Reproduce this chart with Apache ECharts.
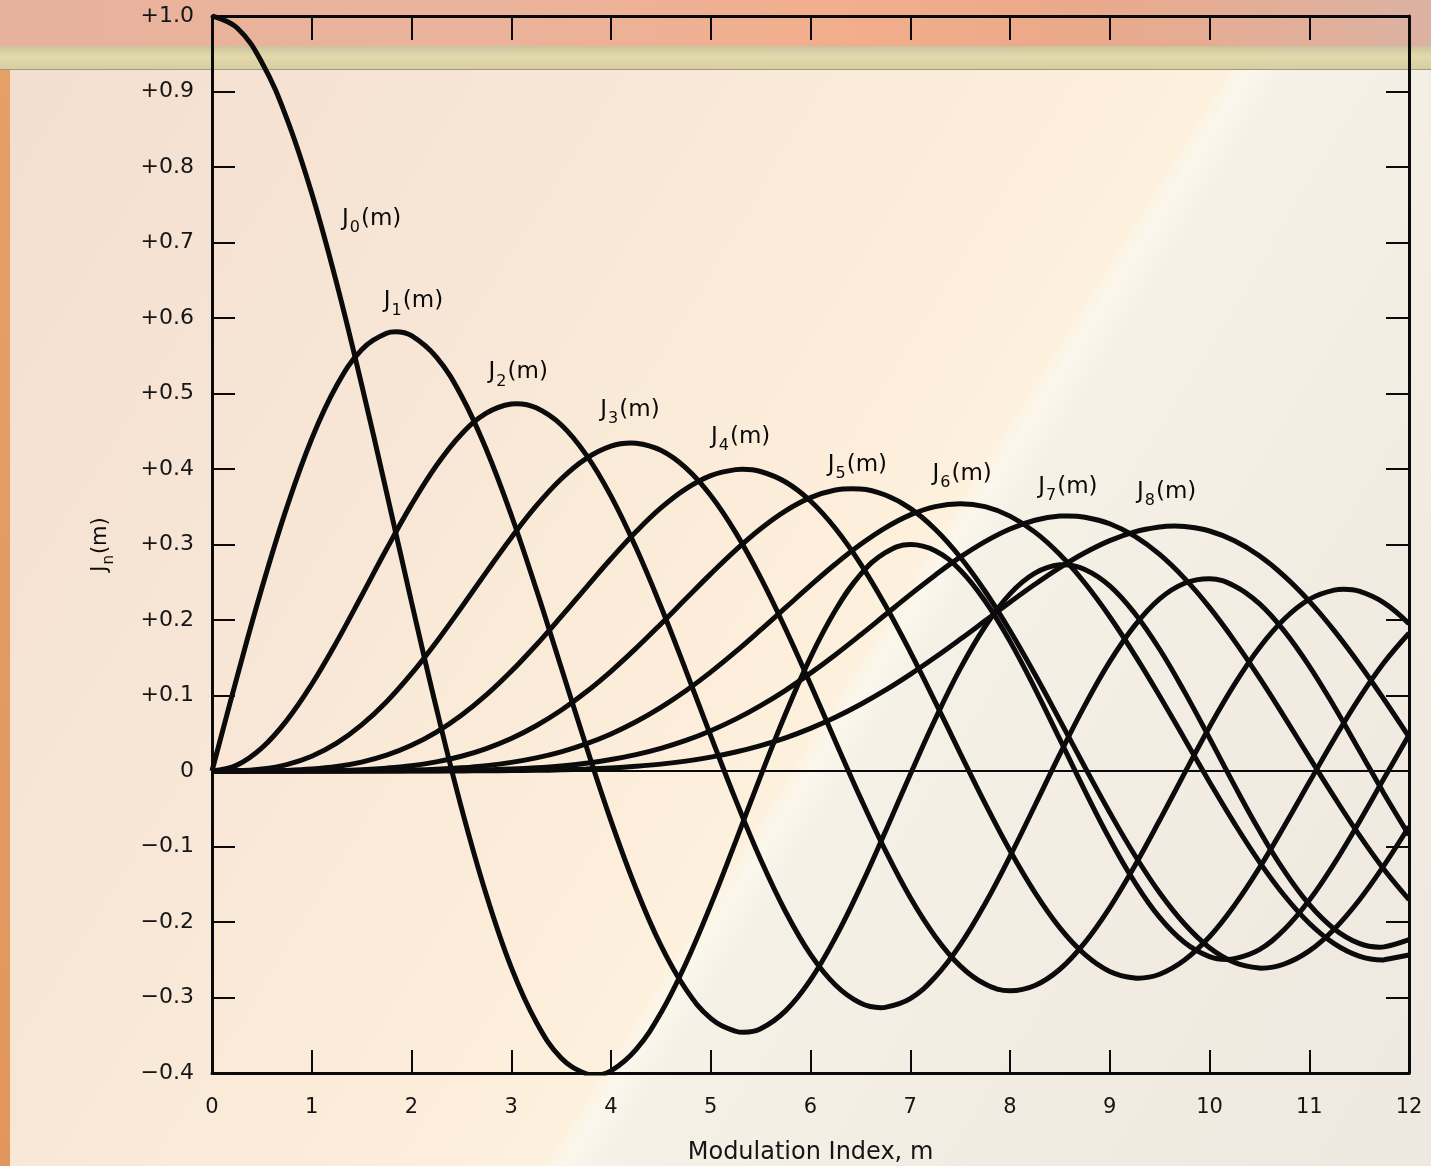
<!DOCTYPE html>
<html>
<head>
<meta charset="utf-8">
<title>Bessel functions Jn(m)</title>
<script src="https://cdn.jsdelivr.net/npm/echarts@6/dist/echarts.min.js"></script>
<style>
html, body { margin: 0; padding: 0; width: 1431px; height: 1166px; overflow: hidden; }
#bg-top { position: absolute; left: 0; top: 0; width: 1431px; height: 46px;
  background: linear-gradient(90deg, #e7b29c 0%, #ebb39b 35%, #f2ae8c 60%, #eaa98a 75%, #dcb2a3 100%); }
#bg-band { position: absolute; left: 0; top: 46px; width: 1431px; height: 23px;
  background: linear-gradient(180deg, #cbc39e 0%, #e3d9ab 45%, #d7cea3 100%); border-bottom: 1px solid #a29b80; }
#bg-left { position: absolute; left: 0; top: 70px; width: 10px; height: 1096px;
  background: linear-gradient(180deg, #e5a066, #e2965c); }
#bg-panel { position: absolute; left: 10px; top: 70px; width: 1421px; height: 1096px;
  background: linear-gradient(122deg, #f3dfcf 0%, #f7e5d5 25%, #fbecd9 45%, #fdf0dc 57.6%, #fbf7ec 58.8%, #f6f1e6 60.6%, #f1ebe2 80%, #efe8e0 100%); }
#main { position: absolute; left: 0; top: 0; width: 1431px; height: 1166px; }
</style>
</head>
<body>
<div id="bg-top"></div>
<div id="bg-band"></div>
<div id="bg-left"></div>
<div id="bg-panel"></div>
<div id="main"></div>
<script>
// modulation index samples
var mValues = [0, 0.25, 0.5, 0.75, 1, 1.25, 1.5, 1.75, 2, 2.25, 2.5, 2.75, 3, 3.25, 3.5, 3.75, 4, 4.25, 4.5, 4.75,
    5, 5.25, 5.5, 5.75, 6, 6.25, 6.5, 6.75, 7, 7.25, 7.5, 7.75, 8, 8.25, 8.5, 8.75, 9, 9.25, 9.5, 9.75,
    10, 10.25, 10.5, 10.75, 11, 11.25, 11.5, 11.75, 12];

// Jn(m)
var J0 = [1.0, 0.9844, 0.9385, 0.8642, 0.7652, 0.6458, 0.5118, 0.3691, 0.2239, 0.0829, -0.0484, -0.1639, -0.2601, -0.3324, -0.3801, -0.4011, -0.3971, -0.3689, -0.3205, -0.2550,
    -0.1776, -0.0931, -0.0068, 0.0759, 0.1506, 0.2129, 0.2601, 0.2892, 0.3001, 0.2918, 0.2663, 0.2251, 0.1717, 0.1092, 0.0419, -0.0259, -0.0903, -0.1472, -0.1939, -0.2271,
    -0.2459, -0.2487, -0.2366, -0.2099, -0.1712, -0.1226, -0.0677, -0.0097, 0.0477];
var J1 = [0, 0.1240, 0.2423, 0.3492, 0.4401, 0.5105, 0.5579, 0.5799, 0.5767, 0.5482, 0.4971, 0.4259, 0.3391, 0.2411, 0.1374, 0.0334, -0.0660, -0.1554, -0.2311, -0.2890,
    -0.3276, -0.3447, -0.3414, -0.3177, -0.2767, -0.2206, -0.1538, -0.0803, -0.0047, 0.0685, 0.1352, 0.1914, 0.2346, 0.2620, 0.2731, 0.2670, 0.2453, 0.2090, 0.1613, 0.1048,
    0.0435, -0.0190, -0.0789, -0.1324, -0.1768, -0.2092, -0.2284, -0.2329, -0.2234];
var J2 = [0, 0.0078, 0.0306, 0.0671, 0.1149, 0.1710, 0.2321, 0.2940, 0.3528, 0.4047, 0.4461, 0.4739, 0.4861, 0.4810, 0.4586, 0.4190, 0.3641, 0.2959, 0.2178, 0.1334,
    0.0466, -0.0383, -0.1173, -0.1864, -0.2429, -0.2835, -0.3074, -0.3130, -0.3014, -0.2729, -0.2303, -0.1757, -0.1130, -0.0457, 0.0223, 0.0869, 0.1448, 0.1925, 0.2279, 0.2486,
    0.2546, 0.2451, 0.2216, 0.1853, 0.1390, 0.0854, 0.0279, -0.0300, -0.0849];
var J3 = [0, 0.0003, 0.0026, 0.0085, 0.0196, 0.0369, 0.0610, 0.0918, 0.1289, 0.1710, 0.2166, 0.2634, 0.3091, 0.3511, 0.3868, 0.4138, 0.4302, 0.4341, 0.4247, 0.4014,
    0.3648, 0.3157, 0.2561, 0.1881, 0.1148, 0.0392, -0.0353, -0.1052, -0.1676, -0.2191, -0.2581, -0.2822, -0.2911, -0.2841, -0.2626, -0.2273, -0.1809, -0.1258, -0.0653, -0.0028,
    0.0584, 0.1147, 0.1633, 0.2013, 0.2273, 0.2395, 0.2381, 0.2227, 0.1951];
var J4 = [0, 0, 0.0002, 0.0008, 0.0025, 0.0059, 0.0118, 0.0209, 0.0340, 0.0515, 0.0738, 0.1007, 0.1320, 0.1669, 0.2044, 0.2430, 0.2811, 0.3169, 0.3484, 0.3737,
    0.3912, 0.3992, 0.3967, 0.3828, 0.3576, 0.3212, 0.2748, 0.2196, 0.1578, 0.0916, 0.0238, -0.0428, -0.1054, -0.1611, -0.2077, -0.2429, -0.2655, -0.2742, -0.2692, -0.2504,
    -0.2196, -0.1780, -0.1283, -0.0729, -0.0150, 0.0424, 0.0963, 0.1437, 0.1825];
var J5 = [0, 0, 0, 0.0001, 0.0002, 0.0007, 0.0018, 0.0038, 0.0070, 0.0121, 0.0195, 0.0297, 0.0430, 0.0599, 0.0804, 0.1046, 0.1321, 0.1624, 0.1947, 0.2280,
    0.2611, 0.2926, 0.3209, 0.3446, 0.3621, 0.3721, 0.3736, 0.3656, 0.3479, 0.3203, 0.2835, 0.2381, 0.1858, 0.1281, 0.0671, 0.0053, -0.0550, -0.1113, -0.1613, -0.2027,
    -0.2341, -0.2536, -0.2610, -0.2556, -0.2383, -0.2095, -0.1711, -0.1249, -0.0735];
var J6 = [0, 0, 0, 0, 0, 0.0001, 0.0002, 0.0006, 0.0012, 0.0023, 0.0042, 0.0071, 0.0114, 0.0174, 0.0254, 0.0359, 0.0491, 0.0652, 0.0843, 0.1063,
    0.1310, 0.1580, 0.1868, 0.2163, 0.2458, 0.2741, 0.2999, 0.3220, 0.3392, 0.3502, 0.3541, 0.3501, 0.3376, 0.3164, 0.2867, 0.2490, 0.2043, 0.1539, 0.0994, 0.0425,
    -0.0145, -0.0694, -0.1203, -0.1649, -0.2016, -0.2286, -0.2451, -0.2500, -0.2437];
var J7 = [0, 0, 0, 0, 0, 0, 0, 0, 0.0002, 0.0004, 0.0008, 0.0015, 0.0025, 0.0042, 0.0067, 0.0103, 0.0152, 0.0217, 0.0300, 0.0405,
    0.0534, 0.0687, 0.0866, 0.1069, 0.1296, 0.1541, 0.1801, 0.2069, 0.2336, 0.2594, 0.2832, 0.3039, 0.3206, 0.3321, 0.3376, 0.3362, 0.3275, 0.3110, 0.2868, 0.2551,
    0.2167, 0.1724, 0.1236, 0.0717, 0.0184, -0.0343, -0.0846, -0.1305, -0.1703];
var J8 = [0, 0, 0, 0, 0, 0, 0, 0, 0, 0.0001, 0.0001, 0.0003, 0.0005, 0.0009, 0.0015, 0.0025, 0.0040, 0.0062, 0.0091, 0.0131,
    0.0184, 0.0252, 0.0337, 0.0440, 0.0565, 0.0711, 0.0880, 0.1070, 0.1280, 0.1506, 0.1744, 0.1989, 0.2235, 0.2473, 0.2694, 0.2890, 0.3051, 0.3168, 0.3233, 0.3238,
    0.3179, 0.3049, 0.2850, 0.2582, 0.2250, 0.1859, 0.1421, 0.0947, 0.0451];

// turning points of each curve [m, value]
var J0ext = [[3.832, -0.4028], [10.173, -0.2497]];
var J1ext = [[1.841, 0.5819], [5.331, -0.3461], [8.536, 0.2733], [11.706, -0.2333]];
var J2ext = [[3.054, 0.4865], [6.706, -0.3135]];
var J3ext = [[4.201, 0.4344], [11.346, 0.2406]];
var J4ext = [[5.318, 0.3997], [9.282, -0.2744]];
var J5ext = [[6.416, 0.3738], [10.520, -0.2611]];
var J6ext = [[11.735, -0.2502]];
var J7ext = [[8.578, 0.3379]];
var J8ext = [[9.647, 0.3245]];

// where the curve names sit (data coords)
var labelX = [1.60, 2.02, 3.07, 4.19, 5.30, 6.47, 7.52, 8.58, 9.57];
var labelY = [0.731, 0.622, 0.528, 0.478, 0.442, 0.405, 0.393, 0.376, 0.370];

var FONT = 'DejaVu Sans';
var INK = '#0a0a0a';

var myChart = echarts.init(document.getElementById('main'));

var curves = [J0, J1, J2, J3, J4, J5, J6, J7, J8];
var turns = [J0ext, J1ext, J2ext, J3ext, J4ext, J5ext, J6ext, J7ext, J8ext];

var series = curves.map(function (vals, n) {
    var pts = mValues.map(function (m, i) { return [m, vals[i]]; }).concat(turns[n]);
    pts.sort(function (a, b) { return a[0] - b[0]; });
    var s = {
        name: 'J' + n,
        type: 'line',
        data: pts,
        showSymbol: false,
        smooth: 0.4,
        lineStyle: { color: '#0b0b0b', width: 5 },
        silent: true,
        z: 3
    };
    if (n === 0) {
        // zero line
        s.markLine = {
            silent: true,
            symbol: 'none',
            label: { show: false },
            lineStyle: { color: INK, width: 2, type: 'solid' },
            data: [{ yAxis: 0 }]
        };
    }
    return s;
});

var subRich = {
    j: { fontFamily: FONT, fontSize: 23, color: INK, lineHeight: 24 },
    s: { fontFamily: FONT, fontSize: 16, color: INK, lineHeight: 16, padding: [18, 1, 0, 1] }
};

// curve names, placed through the axes
series.push({
    type: 'scatter',
    symbolSize: 0,
    silent: true,
    z: 5,
    itemStyle: { opacity: 1 },
    data: labelX.map(function (x, i) {
        return {
            value: [x, labelY[i]],
            label: { formatter: '{j|J}{s|' + i + '}{j|(m)}' }
        };
    }),
    label: { show: true, position: 'inside', color: INK, rich: subRich }
});

function yFmt(v) {
    var r = Math.round(v * 10) / 10;
    if (r === 0) return '0';
    if (r > 0) return '+' + r.toFixed(1);
    return '\u2212' + (-r).toFixed(1);
}

var axisLine = { show: true, onZero: false, lineStyle: { color: INK, width: 3 } };

var option = {
    animation: false,
    backgroundColor: 'transparent',
    grid: { left: 212, right: 22, top: 16, bottom: 93, containLabel: false, outerBoundsMode: 'none' },
    xAxis: [{
        type: 'value', position: 'bottom', min: 0, max: 12, interval: 1,
        axisLine: axisLine,
        axisTick: { show: true, inside: true, length: 23, lineStyle: { color: INK, width: 2 } },
        axisLabel: { color: '#151515', fontSize: 21, fontFamily: FONT, margin: 24 },
        splitLine: { show: false },
        name: 'Modulation Index, m', nameLocation: 'middle', nameGap: 68,
        nameTextStyle: { color: '#151515', fontSize: 24, fontFamily: FONT }
    }, {
        type: 'value', position: 'top', min: 0, max: 12, interval: 1,
        axisLine: axisLine,
        axisTick: { show: true, inside: true, length: 24, lineStyle: { color: INK, width: 2 } },
        axisLabel: { show: false },
        splitLine: { show: false }
    }],
    yAxis: [{
        type: 'value', position: 'left', min: -0.4, max: 1.0, interval: 0.1,
        axisLine: axisLine,
        axisTick: { show: true, inside: true, length: 23, lineStyle: { color: INK, width: 2 } },
        axisLabel: { color: '#151515', fontSize: 22, fontFamily: FONT, margin: 18, formatter: yFmt },
        splitLine: { show: false },
        name: '{j|J}{s|n}{j|(m)}', nameLocation: 'middle', nameGap: 100, nameRotate: 90,
        nameTextStyle: {
            rich: {
                j: { fontFamily: FONT, fontSize: 21, color: INK, lineHeight: 22 },
                s: { fontFamily: FONT, fontSize: 15, color: INK, lineHeight: 15, padding: [16, 1, 0, 1] }
            }
        }
    }, {
        type: 'value', position: 'right', min: -0.4, max: 1.0, interval: 0.1,
        axisLine: axisLine,
        axisTick: { show: true, inside: true, length: 23, lineStyle: { color: INK, width: 2 } },
        axisLabel: { show: false },
        splitLine: { show: false }
    }],
    series: series
};

myChart.setOption(option);
</script>
</body>
</html>
